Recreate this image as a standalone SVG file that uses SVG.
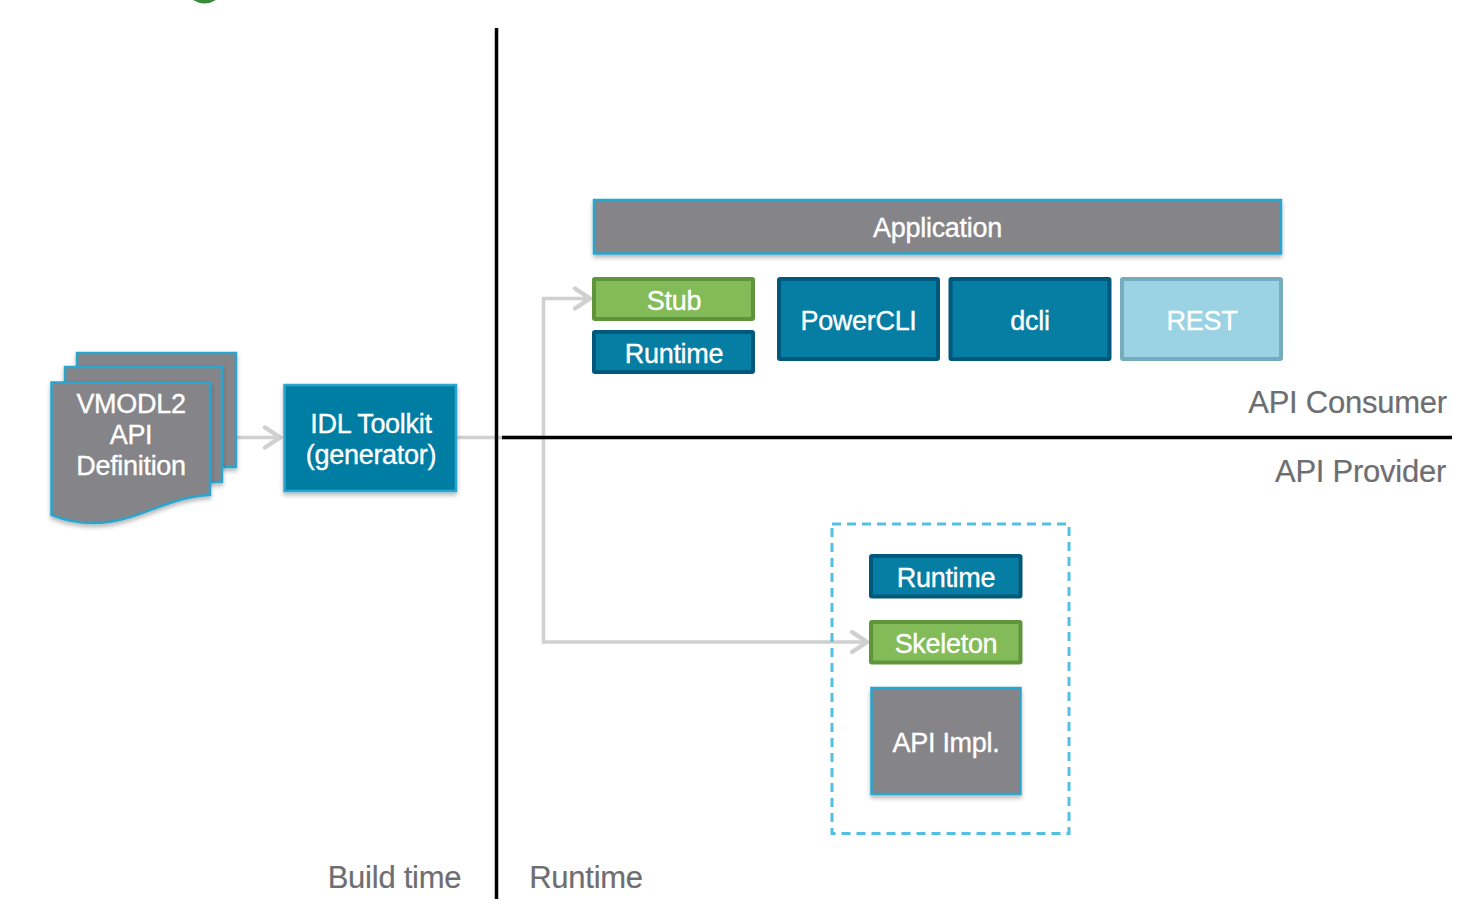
<svg xmlns="http://www.w3.org/2000/svg" width="1472" height="908" viewBox="0 0 1472 908">
<style>
text{font-family:"Liberation Sans",Arial,sans-serif;font-size:27px;text-anchor:middle;fill:#fff;stroke:#fff;stroke-width:.35px;letter-spacing:-.3px}
text.lab{fill:#6d6e71;stroke:#6d6e71;stroke-width:.2px;font-size:31px;letter-spacing:-.25px}
.gray{fill:#858488;stroke:#2aa5cd;stroke-width:2.5;filter:url(#sh)}
.teal{fill:#067da3;stroke:#2aa5cd;stroke-width:2.500;filter:url(#sh)}
.blue{fill:#067da3;stroke:#00597c;stroke-width:4}
.green{fill:#82bb57;stroke:#5f943a;stroke-width:4}
.conn{fill:none;stroke:#d0d0d0;stroke-width:3.5}
.rule{stroke:#000;stroke-width:3.5;fill:none}
</style>
<defs>
<filter id="sh" x="-10%" y="-10%" width="120%" height="125%"><feDropShadow dx="0" dy="3" stdDeviation="2" flood-color="#000" flood-opacity=".28"/></filter>
<marker id="arr" markerUnits="userSpaceOnUse" markerWidth="24" markerHeight="28" refX="20" refY="14" orient="auto"><path d="M4 4 L19 14 L4 24" fill="none" stroke="#d0d0d0" stroke-width="4.500" stroke-linecap="round"/></marker>
</defs>
<rect width="1472" height="908" fill="#fff"/>
<path d="M193 0 Q204.500 7 216 0 Z" fill="#3a8a3c"/>

<g id="connectors">
<path class="conn" d="M236 437.500H281" marker-end="url(#arr)"/>
<path class="conn" d="M457 437.500H543.500V298.500H591" marker-end="url(#arr)"/>
<path class="conn" d="M543.500 437.500V642H868" marker-end="url(#arr)"/>
</g>
<g id="dividers">
<path class="rule" d="M496.500 28V899"/>
<path class="rule" d="M502 437.500H1452"/>
</g>

<g id="vmodl2-doc">
<rect class="gray" x="77" y="353" width="159" height="114"/>
<rect class="gray" x="65" y="367" width="157" height="115"/>
<path class="gray" d="M51.500 382.500H210V495C165 497 135 524 92 523C75 523 62 519 51.500 515Z"/>
<text x="131" y="413">VMODL2</text>
<text x="131" y="444">API</text>
<text x="131" y="475">Definition</text>
</g>
<g id="idl-toolkit">
<rect class="teal" x="284.500" y="385" width="171.500" height="106"/>
<text x="371" y="433">IDL Toolkit</text>
<text x="371" y="464">(generator)</text>
</g>
<g id="application">
<rect class="gray" x="594" y="200" width="687" height="53.500"/>
<text x="937.500" y="237">Application</text>
</g>
<g id="stub">
<rect class="green" x="594" y="279" width="159" height="40" rx="1"/>
<text x="674" y="310">Stub</text>
</g>
<g id="consumer-runtime">
<rect class="blue" x="594" y="332" width="159" height="40" rx="1"/>
<text x="674" y="363">Runtime</text>
</g>
<g id="powercli">
<rect class="blue" x="779" y="279" width="159" height="80" rx="1"/>
<text x="858.500" y="330">PowerCLI</text>
</g>
<g id="dcli">
<rect class="blue" x="950.500" y="279" width="159" height="80" rx="1"/>
<text x="1030" y="330">dcli</text>
</g>
<g id="rest">
<rect x="1122" y="279" width="159" height="80" rx="1" fill="#9bd3e4" stroke="#76adbd" stroke-width="4"/>
<text x="1202" y="330">REST</text>
</g>
<g id="provider-box">
<rect x="832" y="524" width="237" height="309.500" fill="none" stroke="#52bfe3" stroke-width="3" stroke-dasharray="9 6"/>
</g>
<g id="provider-runtime">
<rect class="blue" x="871" y="556" width="149.500" height="40.500" rx="1"/>
<text x="946" y="587">Runtime</text>
</g>
<g id="skeleton">
<rect class="green" x="871" y="622" width="149.500" height="40.500" rx="1"/>
<text x="946" y="653">Skeleton</text>
</g>
<g id="api-impl">
<rect class="gray" x="871.500" y="688" width="149" height="106"/>
<text x="946" y="752">API Impl.</text>
</g>
<g id="labels">
<text class="lab" x="1347.500" y="413">API Consumer</text>
<text class="lab" x="1360.500" y="481.500">API Provider</text>
<text class="lab" x="394.500" y="888">Build time</text>
<text class="lab" x="586" y="888">Runtime</text>
</g>
</svg>
